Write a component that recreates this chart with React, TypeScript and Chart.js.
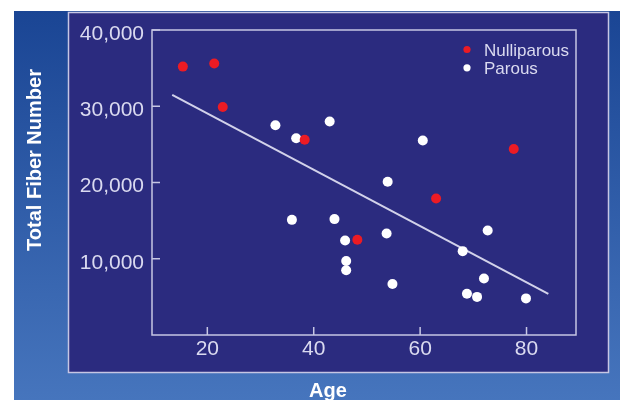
import React, { useEffect, useRef } from "react";
import { Chart, registerables } from "chart.js";

Chart.register(...registerables);

// ---- data ----
const seriesLabels = ["Nulliparous", "Parous"];
const nulliparousAge = [15.4, 21.3, 22.9, 38.3, 48.2, 63.0, 77.6];
const nulliparousFiber = [35200, 35600, 29900, 25600, 12500, 17900, 24400];
const parousAge = [32.8, 36.7, 43.0, 60.5, 53.9, 35.9, 43.9, 45.9, 46.1, 46.1, 53.7, 72.7, 68.0, 72.0, 54.8, 68.8, 70.7, 79.9];
const parousFiber = [27500, 25800, 28000, 25500, 20100, 15100, 15200, 12400, 9700, 8500, 13300, 13700, 11000, 7400, 6700, 5400, 5000, 4800];
const trendAge = [13.4, 84.1];
const trendFiber = [31500, 5400];
const xTickValues = [20, 40, 60, 80];
const yTickValues = [10000, 20000, 30000, 40000];
const xTitle = "Age";
const yTitle = "Total Fiber Number";

// ---- styles ----
const FONT = "'Liberation Sans', Arial, Helvetica, sans-serif";
const RED = "#ec1b24";
const WHITE = "#ffffff";
const LAVENDER = "#dadaf0";
const BOX = "#c6c6e4";
const NAVY = "#2b2b7f";

const toPoints = (xs: number[], ys: number[]) => xs.map((x, i) => ({ x, y: ys[i] }));

const decor = {
  id: "decor",
  beforeDraw(chart: any) {
    const ctx = chart.ctx as CanvasRenderingContext2D;
    ctx.save();
    const g = ctx.createLinearGradient(0, 11, 0, 400);
    g.addColorStop(0, "#1a4594");
    g.addColorStop(1, "#4675bd");
    ctx.fillStyle = g;
    ctx.fillRect(14, 11, 606, 389);
    ctx.fillStyle = NAVY;
    ctx.fillRect(68, 12, 541, 361);
    ctx.strokeStyle = BOX;
    ctx.lineWidth = 1.5;
    ctx.strokeRect(68.5, 12.5, 540, 360);
    ctx.restore();
  },
  beforeDatasetsDraw(chart: any) {
    const { ctx, chartArea: a, scales } = chart;
    ctx.save();
    ctx.strokeStyle = BOX;
    ctx.lineWidth = 1.5;
    ctx.strokeRect(a.left, a.top, a.right - a.left, a.bottom - a.top);
    ctx.beginPath();
    for (const v of yTickValues) {
      const y = scales.y.getPixelForValue(v);
      ctx.moveTo(a.left, y);
      ctx.lineTo(a.left + 8, y);
    }
    for (const v of xTickValues) {
      const x = scales.x.getPixelForValue(v);
      ctx.moveTo(x, a.bottom);
      ctx.lineTo(x, a.bottom - 8);
    }
    ctx.stroke();
    ctx.restore();
  },
  afterDraw(chart: any) {
    const ctx = chart.ctx as CanvasRenderingContext2D;
    ctx.save();
    // axis titles
    ctx.fillStyle = WHITE;
    ctx.font = `bold 20px ${FONT}`;
    ctx.textAlign = "center";
    ctx.textBaseline = "middle";
    ctx.fillText(xTitle, 328, 391);
    ctx.save();
    ctx.translate(35.5, 160);
    ctx.rotate(-Math.PI / 2);
    ctx.fillText(yTitle, 0, 0);
    ctx.restore();
    // legend
    const ds = chart.data.datasets;
    ctx.font = `17px ${FONT}`;
    ctx.textAlign = "left";
    [0, 1].forEach((i) => {
      const y = 49.5 + i * 18.3;
      ctx.fillStyle = ds[i].backgroundColor;
      ctx.beginPath();
      ctx.arc(467, y, 3.6, 0, Math.PI * 2);
      ctx.fill();
      ctx.fillStyle = LAVENDER;
      ctx.fillText(ds[i].label, 484, y + 1.5);
    });
    ctx.restore();
  },
};

export default function App() {
  const ref = useRef<HTMLCanvasElement>(null);
  useEffect(() => {
    const chart = new Chart(ref.current as HTMLCanvasElement, {
      type: "scatter",
      data: {
        datasets: [
          {
            label: seriesLabels[0],
            data: toPoints(nulliparousAge, nulliparousFiber),
            backgroundColor: RED,
            borderWidth: 0,
            pointRadius: 5,
          },
          {
            label: seriesLabels[1],
            data: toPoints(parousAge, parousFiber),
            backgroundColor: WHITE,
            borderWidth: 0,
            pointRadius: 5,
          },
          {
            label: "Trend",
            data: toPoints(trendAge, trendFiber),
            showLine: true,
            borderColor: "#d2d2ea",
            borderWidth: 2,
            pointRadius: 0,
          },
        ],
      },
      options: {
        responsive: false,
        animation: false,
        devicePixelRatio: 1,
        layout: { padding: { left: 0, top: 30, right: 48, bottom: 0 } },
        plugins: { legend: { display: false }, tooltip: { enabled: false }, title: { display: false } },
        scales: {
          x: {
            type: "linear",
            min: 9.6,
            max: 89.3,
            afterBuildTicks: (s: any) => {
              s.ticks = xTickValues.map((v) => ({ value: v }));
            },
            afterFit: (s: any) => {
              s.height = 65;
            },
            grid: { display: false, drawTicks: false },
            border: { display: false },
            ticks: { color: LAVENDER, padding: 2, font: { size: 21, family: FONT } },
          },
          y: {
            type: "linear",
            min: 0,
            max: 40000,
            afterBuildTicks: (s: any) => {
              s.ticks = yTickValues.map((v) => ({ value: v }));
            },
            afterFit: (s: any) => {
              s.width = 152;
            },
            grid: { display: false, drawTicks: false },
            border: { display: false },
            ticks: {
              color: LAVENDER,
              padding: 8,
              labelOffset: 4,
              font: { size: 21, family: FONT },
              callback: (v: any) => Number(v).toLocaleString("en-US"),
            },
          },
        },
      } as any,
      plugins: [decor],
    });
    return () => chart.destroy();
  }, []);
  return (
    <div style={{ position: "fixed", left: 0, top: 0, width: 624, height: 400, background: "#fff" }}>
      <canvas ref={ref} width={624} height={400} style={{ display: "block", width: 624, height: 400 }} />
    </div>
  );
}
